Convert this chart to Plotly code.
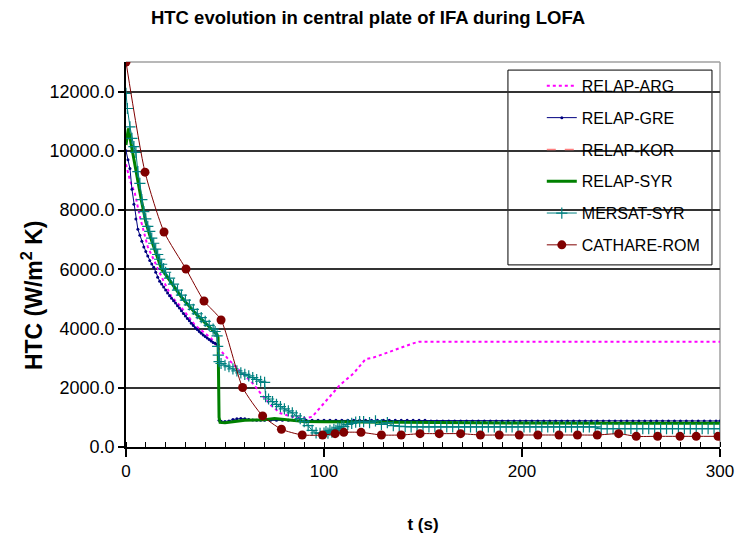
import plotly.graph_objects as go

# ---------------- data ----------------
arg_t = [0, 2, 4.5, 7, 11, 15, 19, 23, 27, 31, 35, 39, 43, 46, 52, 58, 64, 68, 73, 78, 84, 90, 94, 97, 102, 108, 115, 121, 125, 133, 140, 145, 148, 200, 250, 300]
arg_v = [9550, 9000, 8560, 7780, 6760, 6150, 5600, 5070, 4790, 4450, 4100, 3890, 3670, 3390, 2940, 2540, 2150, 1810, 1420, 1140, 1020, 970, 1020, 1250, 1640, 2090, 2490, 2970, 3020, 3220, 3390, 3500, 3555, 3555, 3555, 3555]

gre_t = [0, 1, 2, 3, 4, 5, 6, 7, 8, 9, 10, 11, 12, 13, 14, 15, 16, 17, 18, 19, 20, 21, 22, 23, 24, 25, 26, 27, 28, 29,
         30, 31, 32, 33, 34, 35, 36, 37, 38, 39, 40, 41, 42, 43, 44, 45, 46, 46.5, 47, 48, 50, 52, 54, 56, 58, 60, 62, 64,
         66, 68, 70, 73, 76, 79, 82, 85, 88, 91, 94, 97, 100, 103, 106, 109, 112, 115, 118, 121, 124, 127, 130, 133, 136,
         139, 142, 145, 148, 151, 154, 157, 160, 163, 166, 169, 172, 175, 178, 181, 184, 187, 190, 193, 196, 199, 202,
         205, 208, 211, 214, 217, 220, 223, 226, 229, 232, 235, 238, 241, 244, 247, 250, 253, 256, 259, 262, 265, 268,
         271, 274, 277, 280, 283, 286, 289, 292, 295, 298, 300]
gre_v = [10000, 9700, 9400, 8700, 8200, 7700, 7350, 7150, 6950, 6750, 6600, 6450, 6300, 6180, 6070, 5900, 5730, 5600, 5500,
         5400, 5300, 5200, 5110, 5020, 4940, 4860, 4770, 4690, 4600, 4510, 4420, 4340, 4260, 4180, 4100, 4030, 3970, 3900,
         3840, 3780, 3730, 3680, 3630, 3580, 3530, 3500, 3470, 3450, 900, 870, 860, 880, 930, 950, 960, 950, 930, 910,
         900, 900, 900, 900, 900, 900, 900, 900, 900, 900, 900, 900, 900, 900, 900, 900, 900, 900, 900, 900, 900, 900,
         900, 900, 900, 900, 900, 900, 900, 900, 880, 880, 880, 880, 880, 880, 880, 880, 880, 880, 880, 880, 880, 880,
         880, 880, 880, 880, 880, 880, 880, 880, 880, 880, 880, 880, 880, 880, 880, 880, 880, 880, 880, 880, 880, 880,
         880, 880, 880, 880, 880, 880, 880, 880, 880, 880, 880, 880, 880, 880, 880]

# RELAP-KOR: no curve visible in the picture, only its legend entry
kor_t = [0]
kor_v = [None]

syr_t = [0, 1.2, 2.4, 3.7, 5, 6.5, 8, 10, 12, 14, 16, 18, 20, 22, 24, 26, 28, 30, 32, 34, 36, 38, 40, 42, 44, 46, 46.5,
         47, 47.5, 50, 55, 60, 65, 70, 75, 80, 85, 90, 100, 120, 150, 200, 250, 300]
syr_v = [10200, 10760, 10300, 9860, 9400, 8800, 8250, 7600, 7150, 6750, 6380, 6000, 5820, 5620, 5420, 5230, 5060, 4900,
         4740, 4590, 4450, 4320, 4190, 4070, 3950, 3800, 3700, 1000, 830, 820, 860, 900, 910, 920, 960, 930, 880, 860,
         850, 840, 820, 810, 800, 800]

mer_t = [0, 0.7, 2, 3, 4, 5, 6, 7, 8, 9, 10, 11, 12, 13, 14, 15, 16, 17, 18, 19, 20, 22, 24, 26, 28, 30, 32, 34, 36, 38,
         40, 42, 44, 45, 46, 46.3, 46.6, 47, 48, 50, 52, 54, 56, 58, 60, 62, 64, 66, 68, 70, 70.5, 72, 74, 76, 78, 80, 82,
         84, 86, 88, 90, 92, 94, 96, 98, 100, 101, 102, 103, 104, 105, 106, 107, 108, 109, 110, 112, 114, 116, 118, 120,
         123, 126, 129, 132, 135, 138, 141, 144, 147, 150, 153, 156, 159, 162, 165, 168, 171, 174, 177, 180, 183, 186,
         189, 192, 195, 198, 201, 204, 207, 210, 213, 216, 219, 222, 225, 228, 231, 234, 237, 240, 243, 246, 249, 252,
         255, 258, 261, 264, 267, 270, 273, 276, 279, 282, 285, 288, 291, 294, 297, 300]
mer_v = [11940, 11430, 10810, 10420, 10140, 9950, 9300, 8900, 8350, 7950, 7700, 7450, 7280, 7050, 6880, 6680, 6500, 6340,
         6170, 6020, 5900, 5700, 5500, 5300, 5130, 4960, 4800, 4650, 4500, 4370, 4240, 4110, 3980, 3900, 3750, 3400,
         3100, 2880, 2820, 2760, 2710, 2640, 2570, 2500, 2450, 2400, 2340, 2280, 2220, 2180, 1700, 1620, 1530, 1440,
         1360, 1290, 1220, 1150, 1050, 960, 860, 720, 560, 480, 460, 470, 520, 470, 560, 500, 600, 560, 650, 620, 700,
         690, 760, 800, 840, 860, 860, 820, 880, 760, 820, 720, 700, 690, 680, 680, 680, 680, 680, 680, 680, 680, 680,
         680, 680, 680, 680, 680, 680, 680, 680, 680, 680, 680, 680, 680, 680, 680, 680, 680, 680, 680, 680, 680, 680,
         680, 620, 620, 620, 620, 620, 620, 620, 620, 620, 620, 620, 620, 620, 620, 620, 620, 620, 620, 620, 620, 620,
         620]

rom_t = [0, 9.6, 19.2, 30.3, 39.4, 48, 58.9, 69, 78.5, 89, 99.3, 105.6, 110, 118.7, 129, 139, 148.5, 158.2, 169, 179,
         188.5, 198.6, 208, 218.7, 228, 238, 248.8, 257.7, 268.5, 279.8, 288, 299]
rom_v = [13000, 9280, 7260, 6010, 4930, 4290, 2010, 1050, 600, 405, 405, 450, 495, 495, 405, 405, 450, 450, 450, 405,
         405, 405, 405, 405, 405, 405, 450, 360, 360, 360, 360, 360]

y_ticks = [0, 2000, 4000, 6000, 8000, 10000, 12000]
x_ticks = [0, 100, 200, 300]

FONT = "Liberation Sans, Arial, sans-serif"

fig = go.Figure()

fig.add_trace(go.Scatter(x=arg_t, y=arg_v, name="RELAP-ARG", mode="lines",
                         line=dict(color="#FF00FF", width=2, dash="dot"), legendgroup="a"))
fig.add_trace(go.Scatter(x=gre_t, y=gre_v, name="RELAP-GRE", mode="lines+markers",
                         line=dict(color="#000080", width=1),
                         marker=dict(color="#000080", size=3, symbol="circle"), legendgroup="b"))
fig.add_trace(go.Scatter(x=kor_t, y=kor_v, name="RELAP-KOR", mode="lines",
                         line=dict(color="#FF8080", width=1.5, dash="dash"), legendgroup="c", showlegend=True))
fig.add_trace(go.Scatter(x=syr_t, y=syr_v, name="RELAP-SYR", mode="lines",
                         line=dict(color="#008000", width=3), legendgroup="d"))
fig.add_trace(go.Scatter(x=mer_t, y=mer_v, name="MERSAT-SYR", mode="lines+markers",
                         line=dict(color="#008080", width=1),
                         marker=dict(symbol="cross-thin", size=8, line=dict(color="#008080", width=1.2)),
                         legendgroup="e"))
fig.add_trace(go.Scatter(x=rom_t, y=rom_v, name="CATHARE-ROM", mode="lines+markers",
                         line=dict(color="#800000", width=1, shape="spline", smoothing=0.6),
                         marker=dict(color="#800000", size=9, symbol="circle"), legendgroup="f"))

# plot area frame (top/right) and legend box
fig.add_shape(type="line", xref="paper", yref="paper", x0=0, x1=1, y0=1, y1=1,
              line=dict(color="#A0A0A0", width=1.5), layer="below")
fig.add_shape(type="line", xref="paper", yref="paper", x0=1, x1=1, y0=0, y1=1,
              line=dict(color="#A0A0A0", width=1.5), layer="below")
fig.add_shape(type="rect", xref="paper", yref="paper", x0=0.643, x1=0.9865, y0=0.473, y1=0.979,
              line=dict(color="black", width=1), fillcolor="white", layer="between")

# y-axis title (placed as in the reference, lower than the plot centre)
fig.add_annotation(text="<b>HTC (W/m<sup>2</sup> K)</b>", xref="paper", yref="paper",
                   x=-0.158, y=0.395, xanchor="center", yanchor="middle", textangle=-90,
                   showarrow=False, font=dict(family=FONT, size=23, color="black"))

fig.update_layout(
    width=736, height=539,
    margin=dict(l=126, r=16, t=62, b=92, autoexpand=False),
    paper_bgcolor="white", plot_bgcolor="white",
    font=dict(family=FONT, color="black", size=16),
    title=dict(text="<b>HTC evolution in central plate of IFA during LOFA</b>",
               x=0.5, xanchor="center", y=0.967, yanchor="middle",
               font=dict(family=FONT, size=18.5, color="black")),
    showlegend=True,
    legend=dict(x=0.700, xanchor="left", y=0.982, yanchor="top",
                bgcolor="rgba(0,0,0,0)", borderwidth=0,
                font=dict(family=FONT, size=16, color="black"),
                tracegroupgap=8, traceorder="grouped"),
    xaxis=dict(range=[0, 300], tickvals=x_ticks, ticktext=[str(v) for v in x_ticks], automargin=False,
               showgrid=False, zeroline=False, showline=True, linecolor="black", linewidth=1.5,
               ticks="outside", ticklen=8, tickcolor="black", tickwidth=1.5,
               tickfont=dict(size=17, family=FONT),
               minor=dict(dtick=10, tick0=0, ticks="inside", ticklen=5, tickcolor="black", tickwidth=1),
               title=dict(text="<b>t (s)</b>", font=dict(size=17, family=FONT), standoff=38)),
    yaxis=dict(range=[0, 13000], tickvals=y_ticks, ticktext=[f"{v:.1f}" for v in y_ticks], automargin=False,
               showgrid=True, gridcolor="#333333", gridwidth=1.5,
               zeroline=False, showline=True, linecolor="black", linewidth=1.5,
               ticks="outside", ticklen=6, tickcolor="black", tickwidth=1.5,
               tickfont=dict(size=18, family=FONT)),
)

fig.write_html("out.html")
